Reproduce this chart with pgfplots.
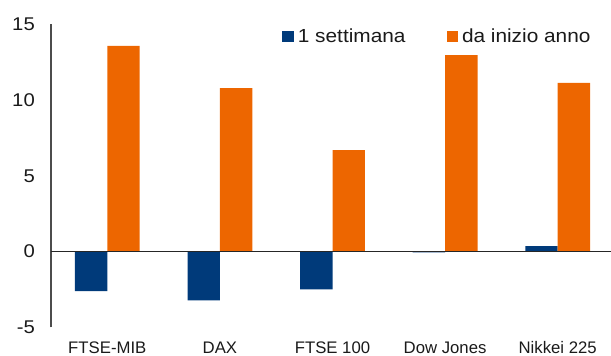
\documentclass[border=0pt]{standalone}
\usepackage{pgfplots}
\pgfplotsset{compat=1.18}
\usepackage{fontspec}
\setmainfont{Liberation Sans}
\newfontfamily\widefont{Liberation Sans}[FakeStretch=1.1]
\definecolor{cblue}{RGB}{0,58,122}
\definecolor{corange}{RGB}{237,102,0}
\definecolor{ctext}{RGB}{26,26,26}
\begin{document}
\begin{tikzpicture}
\begin{axis}[
  scale only axis,
  width=563bp, height=303bp,
  xmin=-0.5, xmax=4.5, ymin=-5, ymax=15,
  axis y line*=left,
  axis x line*=bottom,
  x axis line style={draw=none},
  y axis line style={draw=black!70, line width=1.1bp},
  ytick={-5,0,5,10,15},
  xtick={0,1,2,3,4},
  xticklabels={FTSE-MIB,DAX,FTSE 100,Dow Jones,Nikkei 225},
  major tick length=0pt,
  tick style={draw=none},
  /pgf/number format/assume math mode=true,
  yticklabel style={font=\widefont\fontsize{18.5}{20}\selectfont, text=ctext, anchor=east, inner sep=0pt, xshift=-16bp},
  xticklabel style={font=\fontsize{16.8}{19}\selectfont, text=ctext, anchor=north, inner sep=0pt, text height=12.2bp, text depth=0bp, yshift=-13.4bp},
  ybar, bar width=32.4bp,
  every axis plot post/.append style={legend image code/.code={\fill[##1] (0bp,-5.6bp) rectangle (11.2bp,5.6bp); \path (13.5bp,0bp);}},
  legend columns=2,
  legend style={draw=none, fill=none, inner sep=0pt, outer sep=0pt,
    at={(0.411,0.959)}, anchor=west, font=\widefont\fontsize{19}{21}\selectfont, text=ctext,
    /tikz/every even column/.append style={column sep=39bp}},
]
\addplot[fill=cblue, draw=none, bar shift=-16.2bp] coordinates {(0,-2.61) (1,-3.22) (2,-2.50) (3,-0.06) (4,0.36)};
\addplot[fill=corange, draw=none, bar shift=16.2bp] coordinates {(0,13.58) (1,10.79) (2,6.70) (3,12.97) (4,11.14)};
\draw[black!85, line width=1bp] (axis cs:-0.5,0) -- (axis cs:4.5,0);
\coordinate (bl) at (rel axis cs:0,0);
\coordinate (tl) at (rel axis cs:0,1);
\legend{1 settimana, da inizio anno}
\end{axis}
\pgfresetboundingbox
\path[use as bounding box] ([shift={(-51bp,-28.7bp)}]bl) rectangle ([shift={(560bp,24.3bp)}]tl);
\end{tikzpicture}
\end{document}
